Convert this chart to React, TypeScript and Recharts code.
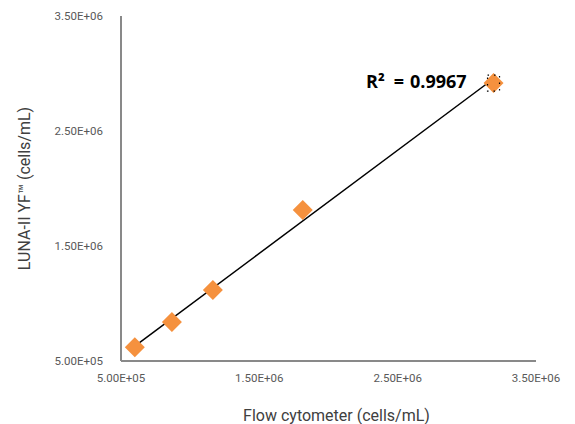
import { ScatterChart, Scatter, XAxis, YAxis, ReferenceLine } from 'recharts'

// flow cytometer vs LUNA-II YF counts (cells/mL)
const flowCounts = [600000, 868000, 1164000, 1814000, 3193000]
const lunaCounts = [620000, 839000, 1117000, 1813000, 2917000]
const axisTicks = [500000, 1500000, 2500000, 3500000]
const r2Value = '0.9967'

const ORANGE = '#F5913E'
const AXIS_GREY = '#898989'
const TEXT_GREY = '#595959'

const points = flowCounts.map((x, i) => ({ x, y: lunaCounts[i] }))

// least squares fit for the trendline
const n = flowCounts.length
const mx = flowCounts.reduce((s, v) => s + v, 0) / n
const my = lunaCounts.reduce((s, v) => s + v, 0) / n
let sxy = 0
let sxx = 0
flowCounts.forEach((x, i) => {
  sxy += (x - mx) * (lunaCounts[i] - my)
  sxx += (x - mx) * (x - mx)
})
const slope = sxy / sxx
const intercept = my - slope * mx
const xMin = Math.min(...flowCounts)
const xMax = Math.max(...flowCounts)

const sci = (v: number) => {
  const e = Math.floor(Math.log10(v))
  const m = v / Math.pow(10, e)
  return `${m.toFixed(2)}E+${String(e).padStart(2, '0')}`
}

const Diamond = (props: any) => {
  const { cx, cy, index } = props
  const r = 10
  return (
    <g>
      <path d={`M${cx},${cy - r} L${cx + r},${cy} L${cx},${cy + r} L${cx - r},${cy} Z`} fill={ORANGE} />
      {index === n - 1 && (
        <rect
          x={cx - 6}
          y={cy - 8}
          width={12}
          height={16}
          fill="none"
          stroke="#000"
          strokeWidth={1.2}
          strokeDasharray="1.5 5"
        />
      )}
    </g>
  )
}

const tickStyle = { fontSize: 11.5, fill: TEXT_GREY, fontFamily: 'Roboto, sans-serif' }

export default function App() {
  return (
    <div style={{ position: 'fixed', left: 0, top: 0, width: 575, height: 424, background: '#fff' }}>
      <ScatterChart width={575} height={424} margin={{ top: 16, right: 39, left: 0, bottom: 0 }}>
        <XAxis
          type="number"
          dataKey="x"
          domain={[500000, 3500000]}
          ticks={axisTicks}
          tickFormatter={sci}
          height={63}
          axisLine={{ stroke: AXIS_GREY, strokeWidth: 2 }}
          tickLine={false}
          tickSize={0}
          tickMargin={13}
          tick={tickStyle}
          label={{
            value: 'Flow cytometer (cells/mL)',
            position: 'insideBottom',
            offset: 3,
            dx: 8,
            style: { fontSize: 16, fill: '#404040', fontFamily: 'Roboto, sans-serif' },
          }}
        />
        <YAxis
          type="number"
          dataKey="y"
          domain={[500000, 3500000]}
          ticks={axisTicks}
          tickFormatter={sci}
          width={121}
          axisLine={{ stroke: AXIS_GREY, strokeWidth: 2 }}
          tickLine={false}
          tickSize={0}
          tickMargin={18}
          tick={tickStyle}
          label={{
            value: 'LUNA-II YF™ (cells/mL)',
            angle: -90,
            position: 'insideLeft',
            offset: 24,
            style: { textAnchor: 'middle', fontSize: 16, fill: '#404040', fontFamily: 'Roboto, sans-serif' },
          }}
        />
        <ReferenceLine
          segment={[
            { x: xMin, y: slope * xMin + intercept },
            { x: xMax, y: slope * xMax + intercept },
          ]}
          stroke="#000"
          strokeWidth={1.5}
          ifOverflow="visible"
        />
        <Scatter data={points} shape={<Diamond />} isAnimationActive={false} />
        <text x={366} y={88} fontSize={18} fontWeight="bold" fill="#000" fontFamily="'Open Sans', sans-serif">
          <tspan>R²</tspan>
          <tspan dx={9}>=</tspan>
          <tspan dx={6}>{r2Value}</tspan>
        </text>
      </ScatterChart>
    </div>
  )
}
